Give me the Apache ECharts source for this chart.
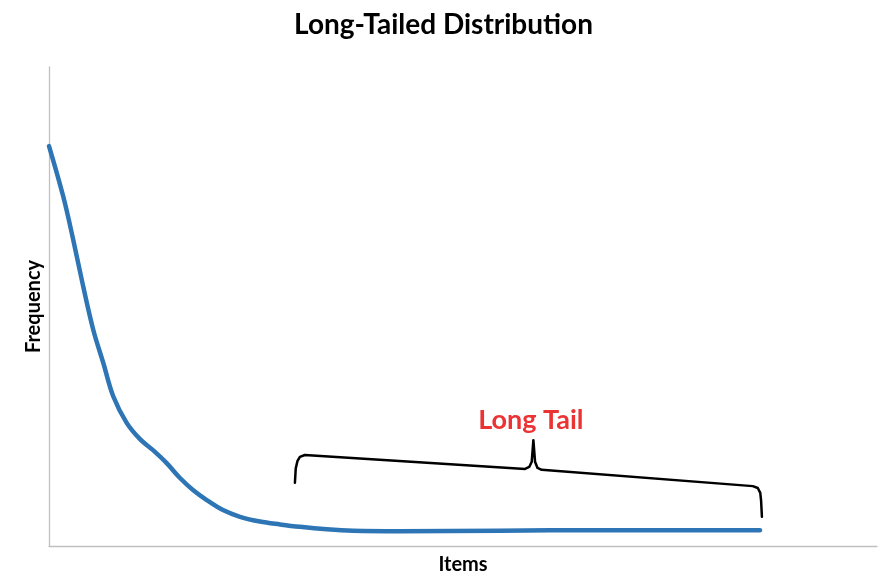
<!DOCTYPE html>
<html>
<head>
<meta charset="utf-8">
<script src="https://cdn.jsdelivr.net/npm/echarts@6/dist/echarts.min.js"></script>
<style>
html,body{margin:0;padding:0;background:#fff;}
#chart{width:887px;height:575px;}
</style>
</head>
<body>
<div id="chart"></div>
<script>
// Curve: items (x) vs frequency (y)
var itemPos = [0, 1.73, 2.93, 4.14, 5.35, 6.56, 7.77, 9.38, 10.99, 12.56, 14.21, 15.82, 17.39, 19.05, 21.01, 23.07, 25.48, 27.9, 30.31, 33.54, 36.71, 42.39, 54.47, 66.55, 85.87];
var frequency = [83.5, 72.9, 63.9, 54.1, 45.1, 38.2, 31.2, 25.7, 22.3, 20.0, 17.3, 14.2, 11.7, 9.6, 7.5, 6.1, 5.1, 4.5, 4.0, 3.5, 3.2, 3.1, 3.2, 3.3, 3.3];

// Brace annotation (data coordinates)
var braceX = [29.7, 29.8, 30.0, 30.3, 30.9, 57.5, 58.0, 58.3, 58.5, 58.7, 59.0, 59.5, 85.0, 85.6, 85.9, 86.0, 86.1];
var braceY = [13.2, 16.2, 17.7, 18.6, 19.0, 16.1, 16.5, 17.6, 22.1, 17.6, 16.3, 15.9, 12.5, 12.1, 11.1, 9.5, 6.1];

var labelText = ["Long Tail"];
var labelPos = [[58.2, 26.3]];

var curveData = itemPos.map(function (x, i) { return [x, frequency[i]]; });
var braceData = braceX.map(function (x, i) { return [x, braceY[i]]; });

var chart = echarts.init(document.getElementById('chart'));
chart.setOption({
  animation: false,
  backgroundColor: '#ffffff',
  title: {
    text: 'Long-Tailed Distribution',
    left: 'center',
    top: 6,
    textStyle: { fontFamily: 'Lato', fontWeight: 'bold', fontSize: 28, color: '#000' }
  },
  grid: { left: 49, right: 10, top: 67, bottom: 29, outerBoundsMode: 'none', containLabel: false },
  xAxis: {
    type: 'value', min: 0, max: 100,
    name: 'Items', nameLocation: 'middle', nameGap: 9,
    nameTextStyle: { fontFamily: 'Lato', fontWeight: 'bold', fontSize: 20, color: '#000' },
    axisLine: { show: true, lineStyle: { color: '#C0C0C0', width: 1.3 } },
    axisTick: { show: false }, axisLabel: { show: false }, splitLine: { show: false }
  },
  yAxis: {
    type: 'value', min: 0, max: 100,
    name: 'Frequency', nameLocation: 'middle', nameGap: 5,
    nameTextStyle: { fontFamily: 'Lato', fontWeight: 'bold', fontSize: 20, color: '#000' },
    axisLine: { show: true, lineStyle: { color: '#C0C0C0', width: 1.3 } },
    axisTick: { show: false }, axisLabel: { show: false }, splitLine: { show: false }
  },
  series: [
    {
      type: 'line', data: curveData, smooth: 0.35, showSymbol: false,
      lineStyle: { color: '#2E75B6', width: 4.5, cap: 'round' }
    },
    {
      type: 'line', data: braceData, smooth: false, showSymbol: false,
      lineStyle: { color: '#000', width: 2.5, join: 'round', cap: 'round' }
    },
    {
      type: 'scatter', data: labelPos, symbolSize: 0,
      label: {
        show: true, position: 'inside',
        formatter: function (p) { return labelText[p.dataIndex]; },
        fontFamily: 'Lato', fontWeight: 'bold', fontSize: 27, color: '#E60000'
      }
    }
  ]
});
</script>
</body>
</html>
